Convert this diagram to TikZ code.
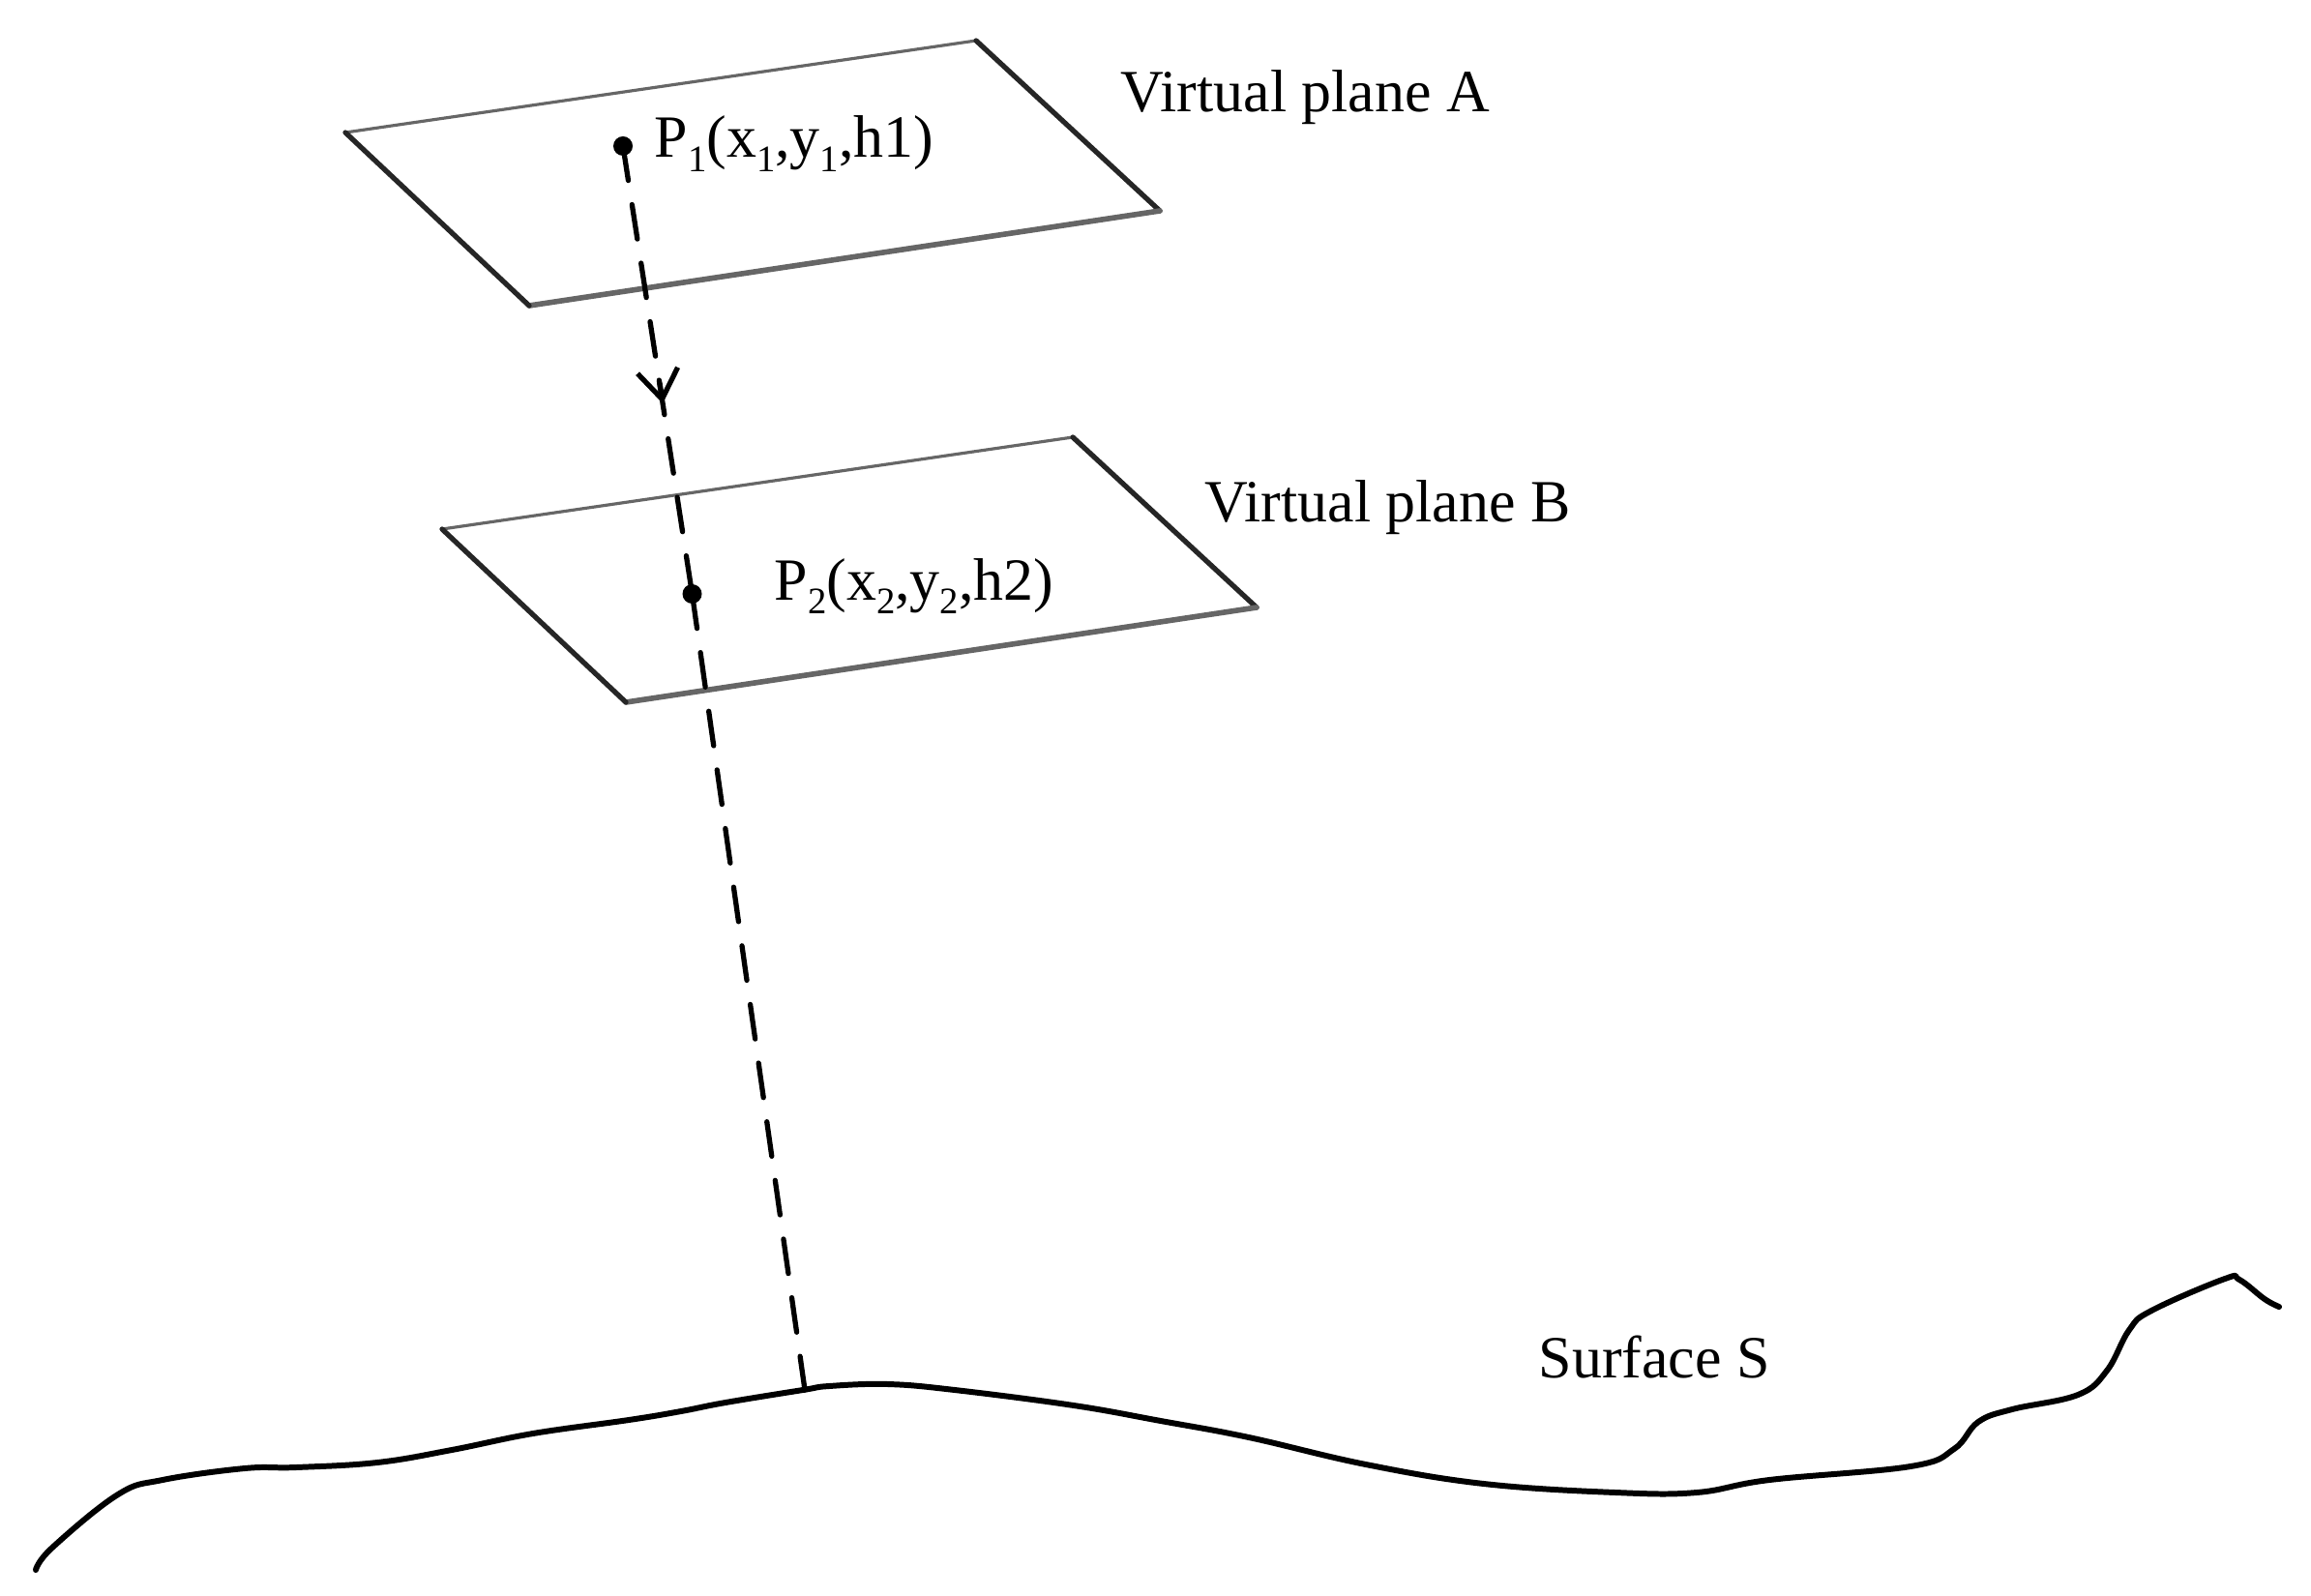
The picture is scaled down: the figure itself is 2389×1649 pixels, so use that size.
\documentclass[tikz,border=0pt]{standalone}
\usepackage{fontspec}
\setmainfont{Liberation Serif}
\usetikzlibrary{arrows.meta,calc}
\newcommand{\lowr}[1]{\raisebox{-0.5ex}{\fontsize{11}{12}\selectfont #1}}
\tikzset{
	ptdot/.style={circle,fill=black,inner sep=0pt,minimum size=0.2cm},
	lbl/.style={anchor=base west,inner sep=0pt,font=\fontsize{17.6}{20}\selectfont},
	rayline/.style={line width=1.5pt,dash pattern=on 0.36cm off 0.252cm},
	sideedge/.style={line width=1.5pt,draw=black!85},
	backedge/.style={line width=0.9pt,draw=black!60},
	frontedge/.style={line width=1.6pt,draw=black!60},
	surf/.style={line width=1.7pt}
}
\begin{document}
\begin{tikzpicture}[line join = round, line cap = round,>=stealth,x=0.01cm,y=-0.01cm]
	\useasboundingbox (0,0) rectangle (2389,1649);
	% the two planes
	\foreach \dx/\dy/\nm in {0/0/A,100/410/B}{
		\coordinate (\nm1) at (357+\dx,137+\dy);
		\coordinate (\nm2) at (1009+\dx,42+\dy);
		\coordinate (\nm3) at (1199+\dx,218+\dy);
		\coordinate (\nm4) at (547+\dx,316+\dy);
		\draw[backedge] (\nm1) -- (\nm2);
		\draw[sideedge] (\nm2) -- (\nm3);
		\draw[frontedge] (\nm3) -- (\nm4);
		\draw[sideedge] (\nm4) -- (\nm1);
	}
	\node[ptdot] (P1) at (644,151) {};
	\node[ptdot] (P2) at (715.5,614) {};
	\coordinate (S0) at (832,1437);
	% ray
	\draw[rayline] (P1.center) -- (P2.center);
	\draw[rayline] (P2.center) -- (S0);
	\coordinate (tipA) at ($(P1)!0.53!(P2)$);
	\coordinate (tipB) at ($(P1)!0.575!(P2)$);
	\draw[line width=1.5pt,-{Straight Barb[length=0.3cm,width=0.42cm]}] (tipA) -- (tipB);
	% surface
	\draw[surf] plot[smooth,tension=0.65] coordinates {(37,1623) (54,1600) (122,1545) (168,1530) (253,1518) (306,1517) (390,1512) (467,1499) (551,1482) (650,1468) (704,1459) (750,1450) (830,1437) (857,1433) (918,1431) (987,1437) (1110,1453) (1200,1469) (1291,1486) (1412,1514) (1534,1534) (1670,1543) (1754,1543) (1829,1530) (1975,1516) (2020,1498) (2045,1470) (2080,1457) (2148,1442) (2178,1417) (2201,1375) (2224,1355) (2300,1322) (2315,1323) (2341,1343) (2356,1351)};
	% labels
	\node[lbl] (labA) at (1158,116) {Virtual plane A};
	\node[lbl] (labB) at (1245,539) {Virtual plane B};
	\node[lbl] (labP1) at (676,163) {P\lowr{1}(x\lowr{1},y\lowr{1},h1)};
	\node[lbl] (labP2) at (800,620) {P\lowr{2}(x\lowr{2},y\lowr{2},h2)};
	\node[lbl] (labS) at (1590,1424) {Surface S};
\end{tikzpicture}
\end{document}
